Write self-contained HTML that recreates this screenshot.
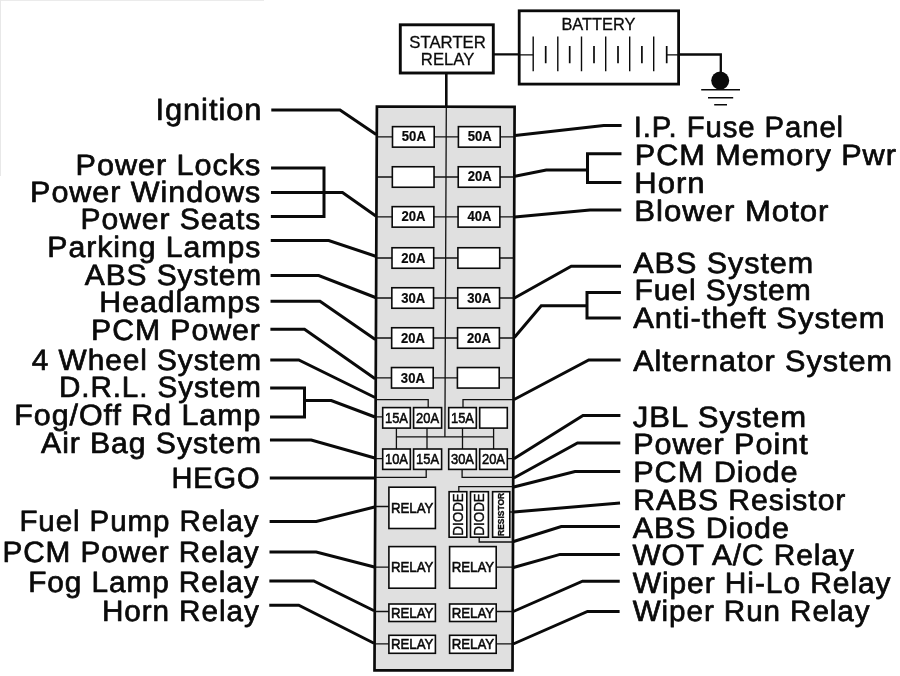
<!DOCTYPE html>
<html lang="en">
<head>
<meta charset="utf-8">
<title>Fuse Panel Diagram</title>
<style>
html,body{margin:0;padding:0;background:#fff;}
body{width:900px;height:676px;overflow:hidden;}
svg{display:block;filter:grayscale(1);}
text{font-kerning:normal;}
</style>
</head>
<body>
<svg width="900" height="676" viewBox="0 0 900 676" font-family="'Liberation Sans', Arial, Helvetica, sans-serif">
<rect width="900" height="676" fill="#ffffff"/>
<rect x="0" y="0" width="264" height="1" fill="#ebebeb"/>
<rect x="0" y="0" width="1" height="176" fill="#e8e8e8"/>
<path d="M376.9 106.5L514.6 106.8L512.5 670.4L374.5 670.3Z" fill="#e0e0e0" stroke="#0a0a0a" stroke-width="2.7" stroke-linejoin="miter"/>
<path d="M446.3 107 L444.9 436.8 M376.77 136.9 L514.49 136.9 M376.6 177.0 L514.34 177.0 M376.43 216.9 L514.19 216.9 M376.26 258.0 L514.04 258.0 M376.08 298.0 L513.89 298.0 M375.91 338.0 L513.74 338.0 M375.75 377.8 L513.59 377.8 M375.65 399.7 L428.2 399.7 L428.2 407.6 M513.51 399.7 L463.0 399.7 L463.0 407.6 M396.4 436.8 L493.6 436.8 M396.4 428.1 L396.4 449.0 M427.0 428.1 L427.0 449.0 M462.5 428.1 L462.5 449.0 M493.6 428.1 L493.6 449.0 M375.58 416.8 L382.7 416.8 M375.4 458.6 L382.7 458.6 M507.3 458.6 L513.29 458.6 M375.32 477.3 L426.2 477.3 L426.2 469.4 M513.22 477.3 L462.1 477.3 L462.1 469.4 M513.18 486.7 L458.8 486.7 L458.8 491.7 M479.2 537.2 L479.2 542.0 L512.98 542.0 M509.8 512.0 L513.09 512.0 M375.2 506.5 L388.9 506.5 M374.94 567.2 L388.9 567.2 M496.2 567.2 L512.88 567.2 M374.75 611.5 L388.9 611.5 M496.2 611.5 L512.72 611.5 M374.61 643.8 L388.9 643.8 M496.2 643.8 L512.6 643.8" fill="none" stroke="#111" stroke-width="1.3"/>
<rect x="392.50" y="126.65" width="41.70" height="20.50" fill="#ffffff" stroke="#0a0a0a" stroke-width="1.6"/>
<rect x="458.40" y="126.65" width="41.80" height="20.50" fill="#ffffff" stroke="#0a0a0a" stroke-width="1.6"/>
<rect x="392.34" y="166.75" width="41.70" height="20.50" fill="#ffffff" stroke="#0a0a0a" stroke-width="1.6"/>
<rect x="458.24" y="166.75" width="41.80" height="20.50" fill="#ffffff" stroke="#0a0a0a" stroke-width="1.6"/>
<rect x="392.17" y="206.65" width="41.70" height="20.50" fill="#ffffff" stroke="#0a0a0a" stroke-width="1.6"/>
<rect x="458.07" y="206.65" width="41.80" height="20.50" fill="#ffffff" stroke="#0a0a0a" stroke-width="1.6"/>
<rect x="392.00" y="247.75" width="41.70" height="20.50" fill="#ffffff" stroke="#0a0a0a" stroke-width="1.6"/>
<rect x="457.90" y="247.75" width="41.80" height="20.50" fill="#ffffff" stroke="#0a0a0a" stroke-width="1.6"/>
<rect x="391.84" y="287.75" width="41.70" height="20.50" fill="#ffffff" stroke="#0a0a0a" stroke-width="1.6"/>
<rect x="457.74" y="287.75" width="41.80" height="20.50" fill="#ffffff" stroke="#0a0a0a" stroke-width="1.6"/>
<rect x="391.68" y="327.75" width="41.70" height="20.50" fill="#ffffff" stroke="#0a0a0a" stroke-width="1.6"/>
<rect x="457.58" y="327.75" width="41.80" height="20.50" fill="#ffffff" stroke="#0a0a0a" stroke-width="1.6"/>
<rect x="391.51" y="367.55" width="41.70" height="20.50" fill="#ffffff" stroke="#0a0a0a" stroke-width="1.6"/>
<rect x="457.41" y="367.55" width="41.80" height="20.50" fill="#ffffff" stroke="#0a0a0a" stroke-width="1.6"/>
<rect x="382.70" y="407.60" width="27.60" height="20.50" fill="#ffffff" stroke="#0a0a0a" stroke-width="1.6"/>
<rect x="382.70" y="449.00" width="27.60" height="20.40" fill="#ffffff" stroke="#0a0a0a" stroke-width="1.6"/>
<rect x="413.60" y="407.60" width="28.00" height="20.50" fill="#ffffff" stroke="#0a0a0a" stroke-width="1.6"/>
<rect x="413.60" y="449.00" width="28.00" height="20.40" fill="#ffffff" stroke="#0a0a0a" stroke-width="1.6"/>
<rect x="448.70" y="407.60" width="27.60" height="20.50" fill="#ffffff" stroke="#0a0a0a" stroke-width="1.6"/>
<rect x="448.70" y="449.00" width="27.60" height="20.40" fill="#ffffff" stroke="#0a0a0a" stroke-width="1.6"/>
<rect x="479.70" y="407.60" width="27.60" height="20.50" fill="#ffffff" stroke="#0a0a0a" stroke-width="1.6"/>
<rect x="479.70" y="449.00" width="27.60" height="20.40" fill="#ffffff" stroke="#0a0a0a" stroke-width="1.6"/>
<rect x="449.10" y="491.70" width="17.70" height="45.50" fill="#ffffff" stroke="#0a0a0a" stroke-width="1.6"/>
<rect x="470.50" y="491.70" width="17.90" height="45.50" fill="#ffffff" stroke="#0a0a0a" stroke-width="1.6"/>
<rect x="492.60" y="491.70" width="17.20" height="45.50" fill="#ffffff" stroke="#0a0a0a" stroke-width="1.6"/>
<rect x="388.90" y="487.20" width="46.50" height="41.30" fill="#ffffff" stroke="#0a0a0a" stroke-width="1.6"/>
<rect x="388.90" y="546.60" width="46.50" height="41.60" fill="#ffffff" stroke="#0a0a0a" stroke-width="1.6"/>
<rect x="449.60" y="546.60" width="46.60" height="41.60" fill="#ffffff" stroke="#0a0a0a" stroke-width="1.6"/>
<rect x="388.90" y="604.00" width="46.50" height="17.50" fill="#ffffff" stroke="#0a0a0a" stroke-width="1.6"/>
<rect x="388.90" y="635.30" width="46.50" height="18.00" fill="#ffffff" stroke="#0a0a0a" stroke-width="1.6"/>
<rect x="449.60" y="604.00" width="46.60" height="17.50" fill="#ffffff" stroke="#0a0a0a" stroke-width="1.6"/>
<rect x="449.60" y="635.30" width="46.60" height="18.00" fill="#ffffff" stroke="#0a0a0a" stroke-width="1.6"/>
<text x="413.85" y="141.13" font-size="14" font-weight="bold" text-anchor="middle" fill="#0a0a0a" stroke="#0a0a0a" stroke-width="0.2" textLength="24.0" lengthAdjust="spacingAndGlyphs">50A</text>
<text x="479.80" y="141.13" font-size="14" font-weight="bold" text-anchor="middle" fill="#0a0a0a" stroke="#0a0a0a" stroke-width="0.2" textLength="24.0" lengthAdjust="spacingAndGlyphs">50A</text>
<text x="479.64" y="181.23" font-size="14" font-weight="bold" text-anchor="middle" fill="#0a0a0a" stroke="#0a0a0a" stroke-width="0.2" textLength="24.0" lengthAdjust="spacingAndGlyphs">20A</text>
<text x="413.52" y="221.13" font-size="14" font-weight="bold" text-anchor="middle" fill="#0a0a0a" stroke="#0a0a0a" stroke-width="0.2" textLength="24.0" lengthAdjust="spacingAndGlyphs">20A</text>
<text x="479.47" y="221.13" font-size="14" font-weight="bold" text-anchor="middle" fill="#0a0a0a" stroke="#0a0a0a" stroke-width="0.2" textLength="24.0" lengthAdjust="spacingAndGlyphs">40A</text>
<text x="413.35" y="263.23" font-size="14" font-weight="bold" text-anchor="middle" fill="#0a0a0a" stroke="#0a0a0a" stroke-width="0.2" textLength="24.0" lengthAdjust="spacingAndGlyphs">20A</text>
<text x="413.19" y="303.23" font-size="14" font-weight="bold" text-anchor="middle" fill="#0a0a0a" stroke="#0a0a0a" stroke-width="0.2" textLength="24.0" lengthAdjust="spacingAndGlyphs">30A</text>
<text x="479.14" y="303.23" font-size="14" font-weight="bold" text-anchor="middle" fill="#0a0a0a" stroke="#0a0a0a" stroke-width="0.2" textLength="24.0" lengthAdjust="spacingAndGlyphs">30A</text>
<text x="413.03" y="343.23" font-size="14" font-weight="bold" text-anchor="middle" fill="#0a0a0a" stroke="#0a0a0a" stroke-width="0.2" textLength="24.0" lengthAdjust="spacingAndGlyphs">20A</text>
<text x="478.98" y="343.23" font-size="14" font-weight="bold" text-anchor="middle" fill="#0a0a0a" stroke="#0a0a0a" stroke-width="0.2" textLength="24.0" lengthAdjust="spacingAndGlyphs">20A</text>
<text x="412.86" y="383.03" font-size="14" font-weight="bold" text-anchor="middle" fill="#0a0a0a" stroke="#0a0a0a" stroke-width="0.2" textLength="24.0" lengthAdjust="spacingAndGlyphs">30A</text>
<text x="396.50" y="422.85" font-size="14.5" font-weight="normal" text-anchor="middle" fill="#0a0a0a" stroke="#0a0a0a" stroke-width="0.55" textLength="23.0" lengthAdjust="spacingAndGlyphs">15A</text>
<text x="396.50" y="464.20" font-size="14.5" font-weight="normal" text-anchor="middle" fill="#0a0a0a" stroke="#0a0a0a" stroke-width="0.55" textLength="23.0" lengthAdjust="spacingAndGlyphs">10A</text>
<text x="427.60" y="422.85" font-size="14.5" font-weight="normal" text-anchor="middle" fill="#0a0a0a" stroke="#0a0a0a" stroke-width="0.55" textLength="23.0" lengthAdjust="spacingAndGlyphs">20A</text>
<text x="427.60" y="464.20" font-size="14.5" font-weight="normal" text-anchor="middle" fill="#0a0a0a" stroke="#0a0a0a" stroke-width="0.55" textLength="23.0" lengthAdjust="spacingAndGlyphs">15A</text>
<text x="462.50" y="422.85" font-size="14.5" font-weight="normal" text-anchor="middle" fill="#0a0a0a" stroke="#0a0a0a" stroke-width="0.55" textLength="23.0" lengthAdjust="spacingAndGlyphs">15A</text>
<text x="462.50" y="464.20" font-size="14.5" font-weight="normal" text-anchor="middle" fill="#0a0a0a" stroke="#0a0a0a" stroke-width="0.55" textLength="23.0" lengthAdjust="spacingAndGlyphs">30A</text>
<text x="493.50" y="464.20" font-size="14.5" font-weight="normal" text-anchor="middle" fill="#0a0a0a" stroke="#0a0a0a" stroke-width="0.55" textLength="23.0" lengthAdjust="spacingAndGlyphs">20A</text>
<text x="412.15" y="512.60" font-size="14.5" font-weight="normal" text-anchor="middle" fill="#0a0a0a" stroke="#0a0a0a" stroke-width="0.55" textLength="42.5" lengthAdjust="spacingAndGlyphs">RELAY</text>
<text x="412.15" y="572.30" font-size="14.5" font-weight="normal" text-anchor="middle" fill="#0a0a0a" stroke="#0a0a0a" stroke-width="0.55" textLength="42.5" lengthAdjust="spacingAndGlyphs">RELAY</text>
<text x="472.90" y="572.30" font-size="14.5" font-weight="normal" text-anchor="middle" fill="#0a0a0a" stroke="#0a0a0a" stroke-width="0.55" textLength="42.5" lengthAdjust="spacingAndGlyphs">RELAY</text>
<text x="412.15" y="617.90" font-size="14.5" font-weight="normal" text-anchor="middle" fill="#0a0a0a" stroke="#0a0a0a" stroke-width="0.55" textLength="42.5" lengthAdjust="spacingAndGlyphs">RELAY</text>
<text x="412.15" y="649.40" font-size="14.5" font-weight="normal" text-anchor="middle" fill="#0a0a0a" stroke="#0a0a0a" stroke-width="0.55" textLength="42.5" lengthAdjust="spacingAndGlyphs">RELAY</text>
<text x="472.90" y="617.90" font-size="14.5" font-weight="normal" text-anchor="middle" fill="#0a0a0a" stroke="#0a0a0a" stroke-width="0.55" textLength="42.5" lengthAdjust="spacingAndGlyphs">RELAY</text>
<text x="472.90" y="649.40" font-size="14.5" font-weight="normal" text-anchor="middle" fill="#0a0a0a" stroke="#0a0a0a" stroke-width="0.55" textLength="42.5" lengthAdjust="spacingAndGlyphs">RELAY</text>
<text transform="translate(462.95,514.45) rotate(-90)" font-size="15" text-anchor="middle" fill="#0a0a0a" stroke="#0a0a0a" stroke-width="0.35" textLength="42.5" lengthAdjust="spacingAndGlyphs">DIODE</text>
<text transform="translate(484.45,514.45) rotate(-90)" font-size="15" text-anchor="middle" fill="#0a0a0a" stroke="#0a0a0a" stroke-width="0.35" textLength="42.5" lengthAdjust="spacingAndGlyphs">DIODE</text>
<text transform="translate(504.30,514.45) rotate(-90)" font-size="8.8" font-weight="bold" text-anchor="middle" fill="#0a0a0a" stroke="#0a0a0a" stroke-width="0.3" textLength="43" lengthAdjust="spacingAndGlyphs">RESISTOR</text>
<rect x="400.3" y="24.8" width="93.0" height="48.2" fill="#fff" stroke="#0a0a0a" stroke-width="2.9"/>
<text x="447.6" y="48" font-size="17" text-anchor="middle" fill="#0a0a0a" stroke="#0a0a0a" stroke-width="0.3" textLength="76.5" lengthAdjust="spacingAndGlyphs">STARTER</text>
<text x="447.6" y="65" font-size="17" text-anchor="middle" fill="#0a0a0a" stroke="#0a0a0a" stroke-width="0.3" textLength="53.5" lengthAdjust="spacingAndGlyphs">RELAY</text>
<rect x="519.2" y="10.8" width="159.4" height="73.3" fill="#fff" stroke="#0a0a0a" stroke-width="2.8"/>
<text x="598.4" y="30.2" font-size="16" text-anchor="middle" fill="#0a0a0a" stroke="#0a0a0a" stroke-width="0.3" textLength="74" lengthAdjust="spacingAndGlyphs">BATTERY</text>
<path d="M533.2 36.5V71.3 M557.8 36.5V71.3 M581.5 36.5V71.3 M605.7 36.5V71.3 M629.7 36.5V71.3 M653.7 36.5V71.3" fill="none" stroke="#0a0a0a" stroke-width="1.4"/>
<path d="M545.7 46.1V63.3 M569.7 46.1V63.3 M594.0 46.1V63.3 M618.0 46.1V63.3 M641.9 46.1V63.3 M666.7 46.1V63.3" fill="none" stroke="#0a0a0a" stroke-width="1.7"/>
<path d="M519 54.8H533.2 M666.7 54.8H679" fill="none" stroke="#0a0a0a" stroke-width="1.3"/>
<path d="M446.3 73V106" fill="none" stroke="#0a0a0a" stroke-width="2.6"/>
<path d="M494 54.4H518.5 M679.5 54.5H720.8V78" fill="none" stroke="#0a0a0a" stroke-width="2.3"/>
<circle cx="720.2" cy="80.6" r="9.0" fill="#0a0a0a"/>
<path d="M701.2 89.8H740 M708 97.8H733.2 M714.2 104.8H727" fill="none" stroke="#0a0a0a" stroke-width="1.6"/>
<path d="M271.3 110 L340 110 L376.18 134.5 M271.06 168 L324 168 L324 216.5 L270.86 216.5 M270.96 192.5 L342.5 192.5 L375.83 216 M270.76 240.5 L328.75 240.5 L375.66 256.25 M270.62 275.5 L318.75 275.5 L375.49 297.5 M270.52 301.25 L320 301.25 L375.31 339.5 M270.4 329.25 L304.5 329.25 L375.14 378.75 M270.28 360 L298.75 360 L375.06 397.5 M270.16 388 L304.5 388 L304.5 417 L270.04 417 M304.5 400.5 L331.25 400.5 L374.98 417 M269.95 440 L311.25 440 L374.8 458 M269.79 478 L374.72 478 M269.61 521.5 L316.25 521.5 L374.6 507 M269.49 552 L316.25 552 L374.34 567 M269.37 581 L313.75 581 L374.15 610.75 M269.27 605.25 L298.75 605.25 L374.02 643.25 M621.6 125.5 L603.75 125.5 L515.09 135.5 M621.48 153.75 L587.5 153.75 L587.5 182.5 L621.36 182.5 M587.5 170 L546.25 170 L514.94 176.25 M621.25 210 L590 210 L514.79 217 M621.02 266.25 L571.25 266.25 L514.49 298 M620.91 292.5 L587 292.5 L587 318 L620.81 318 M587 305.75 L541.25 305.75 L514.34 337.5 M620.64 360 L588.75 360 L514.11 399.5 M620.41 415.5 L583 415.5 L513.89 458.75 M620.3 443 L577.5 443 L513.82 478 M620.18 471.5 L575 471.5 L513.78 487 M620.05 503 L513.69 512 M619.95 526.5 L561.25 526.5 L513.58 541.5 M619.84 554.4 L560 554.4 L513.48 567.5 M619.73 581.25 L582.5 581.25 L513.32 611.5 M619.61 611.5 L587.5 611.5 L513.2 644" fill="none" stroke="#0a0a0a" stroke-width="3" stroke-linejoin="miter"/>
<text transform="translate(155.44,120.00) scale(1.0086,1)" font-size="30.6" fill="#0a0a0a" stroke="#0a0a0a" stroke-width="0.7" stroke-linejoin="round" text-rendering="geometricPrecision" letter-spacing="0.92" xml:space="preserve">Ignition</text>
<text transform="translate(75.57,175.00) scale(1.0404,1)" font-size="29.4" fill="#0a0a0a" stroke="#0a0a0a" stroke-width="0.7" stroke-linejoin="round" text-rendering="geometricPrecision" letter-spacing="0.92" xml:space="preserve">Power Locks</text>
<text transform="translate(30.08,202.00) scale(1.0383,1)" font-size="29.4" fill="#0a0a0a" stroke="#0a0a0a" stroke-width="0.7" stroke-linejoin="round" text-rendering="geometricPrecision" letter-spacing="0.92" xml:space="preserve">Power Windows</text>
<text transform="translate(80.62,229.00) scale(1.0214,1)" font-size="29.4" fill="#0a0a0a" stroke="#0a0a0a" stroke-width="0.7" stroke-linejoin="round" text-rendering="geometricPrecision" letter-spacing="0.92" xml:space="preserve">Power Seats</text>
<text transform="translate(47.35,257.00) scale(1.0284,1)" font-size="29.4" fill="#0a0a0a" stroke="#0a0a0a" stroke-width="0.7" stroke-linejoin="round" text-rendering="geometricPrecision" letter-spacing="0.92" xml:space="preserve">Parking Lamps</text>
<text transform="translate(84.83,285.00) scale(1.0177,1)" font-size="29.4" fill="#0a0a0a" stroke="#0a0a0a" stroke-width="0.7" stroke-linejoin="round" text-rendering="geometricPrecision" letter-spacing="0.92" xml:space="preserve">ABS System</text>
<text transform="translate(99.34,312.00) scale(1.0313,1)" font-size="29.4" fill="#0a0a0a" stroke="#0a0a0a" stroke-width="0.7" stroke-linejoin="round" text-rendering="geometricPrecision" letter-spacing="0.92" xml:space="preserve">Headlamps</text>
<text transform="translate(91.10,340.00) scale(1.0271,1)" font-size="29.4" fill="#0a0a0a" stroke="#0a0a0a" stroke-width="0.7" stroke-linejoin="round" text-rendering="geometricPrecision" letter-spacing="0.92" xml:space="preserve">PCM Power</text>
<text transform="translate(31.82,370.00) scale(1.0151,1)" font-size="29.4" fill="#0a0a0a" stroke="#0a0a0a" stroke-width="0.7" stroke-linejoin="round" text-rendering="geometricPrecision" letter-spacing="0.92" xml:space="preserve">4 Wheel System</text>
<text transform="translate(58.90,397.00) scale(1.0082,1)" font-size="29.4" fill="#0a0a0a" stroke="#0a0a0a" stroke-width="0.7" stroke-linejoin="round" text-rendering="geometricPrecision" letter-spacing="0.92" xml:space="preserve">D.R.L. System</text>
<text transform="translate(14.34,425.00) scale(1.0346,1)" font-size="29.4" fill="#0a0a0a" stroke="#0a0a0a" stroke-width="0.7" stroke-linejoin="round" text-rendering="geometricPrecision" letter-spacing="0.92" xml:space="preserve">Fog/Off Rd Lamp</text>
<text transform="translate(41.08,453.00) scale(1.0256,1)" font-size="29.4" fill="#0a0a0a" stroke="#0a0a0a" stroke-width="0.7" stroke-linejoin="round" text-rendering="geometricPrecision" letter-spacing="0.92" xml:space="preserve">Air Bag System</text>
<text transform="translate(171.39,488.00) scale(0.9883,1)" font-size="29.4" fill="#0a0a0a" stroke="#0a0a0a" stroke-width="0.7" stroke-linejoin="round" text-rendering="geometricPrecision" letter-spacing="0.92" xml:space="preserve">HEGO</text>
<text transform="translate(19.41,531.00) scale(1.0036,1)" font-size="29.4" fill="#0a0a0a" stroke="#0a0a0a" stroke-width="0.7" stroke-linejoin="round" text-rendering="geometricPrecision" letter-spacing="0.92" xml:space="preserve">Fuel Pump Relay</text>
<text transform="translate(2.39,562.00) scale(1.0127,1)" font-size="29.4" fill="#0a0a0a" stroke="#0a0a0a" stroke-width="0.7" stroke-linejoin="round" text-rendering="geometricPrecision" letter-spacing="0.92" xml:space="preserve">PCM Power Relay</text>
<text transform="translate(28.14,592.00) scale(1.0130,1)" font-size="29.4" fill="#0a0a0a" stroke="#0a0a0a" stroke-width="0.7" stroke-linejoin="round" text-rendering="geometricPrecision" letter-spacing="0.92" xml:space="preserve">Fog Lamp Relay</text>
<text transform="translate(101.89,621.00) scale(1.0099,1)" font-size="29.4" fill="#0a0a0a" stroke="#0a0a0a" stroke-width="0.7" stroke-linejoin="round" text-rendering="geometricPrecision" letter-spacing="0.92" xml:space="preserve">Horn Relay</text>
<text transform="translate(633.74,137.00) scale(0.9968,1)" font-size="29.4" fill="#0a0a0a" stroke="#0a0a0a" stroke-width="0.7" stroke-linejoin="round" text-rendering="geometricPrecision" letter-spacing="0.92" xml:space="preserve">I.P. Fuse Panel</text>
<text transform="translate(634.87,165.00) scale(1.0425,1)" font-size="29.4" fill="#0a0a0a" stroke="#0a0a0a" stroke-width="0.7" stroke-linejoin="round" text-rendering="geometricPrecision" letter-spacing="0.92" xml:space="preserve">PCM Memory Pwr</text>
<text transform="translate(634.33,193.00) scale(1.0568,1)" font-size="29.4" fill="#0a0a0a" stroke="#0a0a0a" stroke-width="0.7" stroke-linejoin="round" text-rendering="geometricPrecision" letter-spacing="0.92" xml:space="preserve">Horn</text>
<text transform="translate(634.33,221.00) scale(1.0593,1)" font-size="29.4" fill="#0a0a0a" stroke="#0a0a0a" stroke-width="0.7" stroke-linejoin="round" text-rendering="geometricPrecision" letter-spacing="0.92" xml:space="preserve">Blower Motor</text>
<text transform="translate(633.23,273.00) scale(1.0390,1)" font-size="29.4" fill="#0a0a0a" stroke="#0a0a0a" stroke-width="0.7" stroke-linejoin="round" text-rendering="geometricPrecision" letter-spacing="0.92" xml:space="preserve">ABS System</text>
<text transform="translate(634.42,300.00) scale(1.0215,1)" font-size="29.4" fill="#0a0a0a" stroke="#0a0a0a" stroke-width="0.7" stroke-linejoin="round" text-rendering="geometricPrecision" letter-spacing="0.92" xml:space="preserve">Fuel System</text>
<text transform="translate(633.22,328.00) scale(1.0533,1)" font-size="29.4" fill="#0a0a0a" stroke="#0a0a0a" stroke-width="0.7" stroke-linejoin="round" text-rendering="geometricPrecision" letter-spacing="0.92" xml:space="preserve">Anti-theft System</text>
<text transform="translate(633.23,371.00) scale(1.0417,1)" font-size="29.4" fill="#0a0a0a" stroke="#0a0a0a" stroke-width="0.7" stroke-linejoin="round" text-rendering="geometricPrecision" letter-spacing="0.92" xml:space="preserve">Alternator System</text>
<text transform="translate(632.87,427.00) scale(1.0568,1)" font-size="29.4" fill="#0a0a0a" stroke="#0a0a0a" stroke-width="0.7" stroke-linejoin="round" text-rendering="geometricPrecision" letter-spacing="0.92" xml:space="preserve">JBL System</text>
<text transform="translate(633.17,454.00) scale(1.0408,1)" font-size="29.4" fill="#0a0a0a" stroke="#0a0a0a" stroke-width="0.7" stroke-linejoin="round" text-rendering="geometricPrecision" letter-spacing="0.92" xml:space="preserve">Power Point</text>
<text transform="translate(633.17,482.00) scale(1.0432,1)" font-size="29.4" fill="#0a0a0a" stroke="#0a0a0a" stroke-width="0.7" stroke-linejoin="round" text-rendering="geometricPrecision" letter-spacing="0.92" xml:space="preserve">PCM Diode</text>
<text transform="translate(633.21,510.00) scale(1.0248,1)" font-size="29.4" fill="#0a0a0a" stroke="#0a0a0a" stroke-width="0.7" stroke-linejoin="round" text-rendering="geometricPrecision" letter-spacing="0.92" xml:space="preserve">RABS Resistor</text>
<text transform="translate(632.73,538.00) scale(1.0330,1)" font-size="29.4" fill="#0a0a0a" stroke="#0a0a0a" stroke-width="0.7" stroke-linejoin="round" text-rendering="geometricPrecision" letter-spacing="0.92" xml:space="preserve">ABS Diode</text>
<text transform="translate(632.43,565.00) scale(1.0160,1)" font-size="29.4" fill="#0a0a0a" stroke="#0a0a0a" stroke-width="0.7" stroke-linejoin="round" text-rendering="geometricPrecision" letter-spacing="0.92" xml:space="preserve">WOT A/C Relay</text>
<text transform="translate(632.73,593.00) scale(1.0182,1)" font-size="29.4" fill="#0a0a0a" stroke="#0a0a0a" stroke-width="0.7" stroke-linejoin="round" text-rendering="geometricPrecision" letter-spacing="0.92" xml:space="preserve">Wiper Hi-Lo Relay</text>
<text transform="translate(632.73,621.00) scale(1.0075,1)" font-size="29.4" fill="#0a0a0a" stroke="#0a0a0a" stroke-width="0.7" stroke-linejoin="round" text-rendering="geometricPrecision" letter-spacing="0.92" xml:space="preserve">Wiper Run Relay</text>
</svg>
</body>
</html>
